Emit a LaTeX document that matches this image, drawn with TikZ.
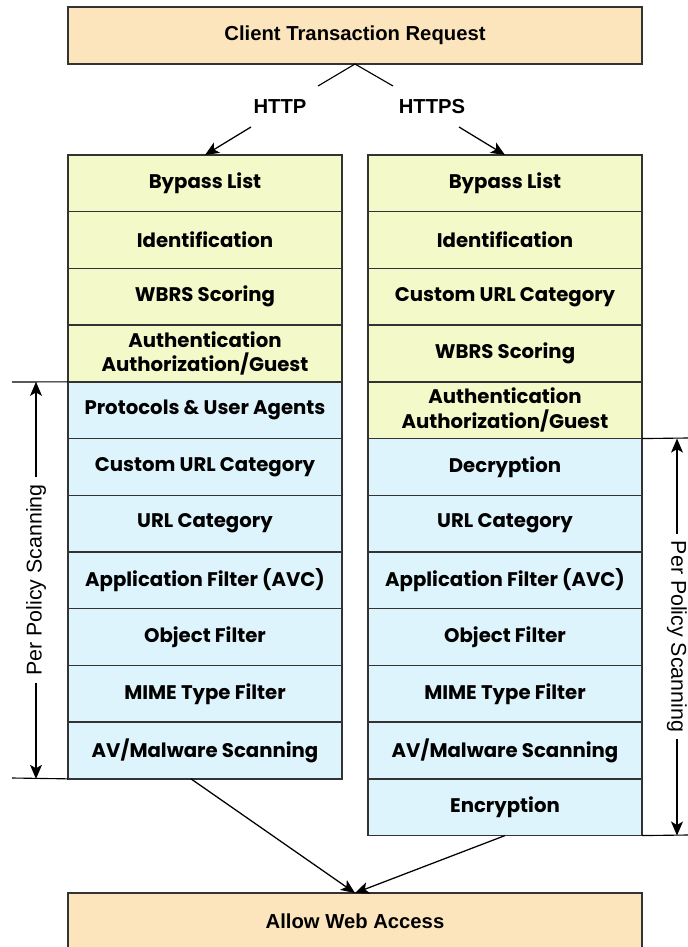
\documentclass[tikz,border=0pt]{standalone}
\usepackage{fontspec}
\setmainfont{Poppins}
\newfontfamily\arialfont{Liberation Sans}
\usetikzlibrary{arrows, arrows.meta, positioning}
\definecolor{stagefill}{HTML}{F3F9C8}
\definecolor{scanfill}{HTML}{DDF4FC}
\definecolor{endfill}{HTML}{FCE5BD}
\definecolor{edge}{HTML}{333333}

\begin{document}
\begin{tikzpicture}[x=0.025cm, y=-0.025cm]
		\tikzstyle{Stage} = [rectangle, minimum width=6.85cm, minimum height=1.4175cm, text centered, align=center, draw=edge, fill=stagefill, line width=1pt, outer sep=0pt, inner sep=0pt, font=\fontsize{14}{17.5}\selectfont\bfseries]
		\tikzstyle{Scan} = [Stage, fill=scanfill]
		\tikzstyle{Endpoint} = [rectangle, minimum width=14.35cm, minimum height=1.425cm, text centered, draw=edge, fill=endfill, line width=1pt, outer sep=0pt, font=\arialfont\fontsize{14.4}{17}\selectfont\bfseries]
		\tikzstyle{Proto} = [font=\arialfont\fontsize{14.4}{17}\selectfont\bfseries]
		\tikzstyle{Span} = [font=\arialfont\fontsize{15.2}{18}\selectfont, inner xsep=5pt]
		\tikzstyle{arrow} = [line width=0.9pt, -{Stealth[length=10pt, width=8.5pt, inset=2.5pt]}]
		\tikzstyle{Tick} = [line width=0.8pt]
		
		\useasboundingbox (0,0) rectangle (688,947);
		
		% request and protocols
		\node (req) [Endpoint] at (355,35.5) {Client Transaction Request};
		\node (http) [Proto] at (280,107) {HTTP};
		\node (https) [Proto] at (432,107) {HTTPS};
		\coordinate (httpHead) at (318,86);
		\coordinate (httpsHead) at (393,86);
		\coordinate (httpFoot) at (251,127);
		\coordinate (httpsFoot) at (459,127);
		
		% HTTP column
		\node (h1) [Stage] at (205,183.35) {Bypass List};
		\node (h2) [Stage, below = 0mm of h1] {Identification};
		\node (h3) [Stage, below = 0mm of h2] {WBRS Scoring};
		\node (h4) [Stage, below = 0mm of h3] {Authentication\\Authorization/Guest};
		\node (h5) [Scan, below = 0mm of h4] {Protocols \& User Agents};
		\node (h6) [Scan, below = 0mm of h5] {Custom URL Category};
		\node (h7) [Scan, below = 0mm of h6] {URL Category};
		\node (h8) [Scan, below = 0mm of h7] {Application Filter (AVC)};
		\node (h9) [Scan, below = 0mm of h8] {Object Filter};
		\node (h10) [Scan, below = 0mm of h9] {MIME Type Filter};
		\node (h11) [Scan, below = 0mm of h10] {AV/Malware Scanning};
		
		% HTTPS column
		\node (s1) [Stage] at (505,183.35) {Bypass List};
		\node (s2) [Stage, below = 0mm of s1] {Identification};
		\node (s3) [Stage, below = 0mm of s2] {Custom URL Category};
		\node (s4) [Stage, below = 0mm of s3] {WBRS Scoring};
		\node (s5) [Stage, below = 0mm of s4] {Authentication\\Authorization/Guest};
		\node (s6) [Scan, below = 0mm of s5] {Decryption};
		\node (s7) [Scan, below = 0mm of s6] {URL Category};
		\node (s8) [Scan, below = 0mm of s7] {Application Filter (AVC)};
		\node (s9) [Scan, below = 0mm of s8] {Object Filter};
		\node (s10) [Scan, below = 0mm of s9] {MIME Type Filter};
		\node (s11) [Scan, below = 0mm of s10] {AV/Malware Scanning};
		\node (s12) [Scan, below = 0mm of s11] {Encryption};
		
		\node (allow) [Endpoint, anchor=north] at (355,893) {Allow Web Access};
		
		\draw [Tick] (req.south) -- (httpHead);
		\draw [Tick] (req.south) -- (httpsHead);
		\draw [arrow] (httpFoot) -- (h1.north);
		\draw [arrow] (httpsFoot) -- (s1.north);
		\draw [arrow] ([xshift=-0.35cm]h11.south) -- (allow.north);
		\draw [arrow] (s12.south) -- (allow.north);
		
		% per policy scanning spans
		\coordinate (hTopTick) at (12,382);
		\coordinate (hBotTick) at (12,778);
		\coordinate (sTopTick) at (688,438);
		\coordinate (sBotTick) at (688,835);
		\draw [Tick] (hTopTick) -- (h5.north west);
		\draw [Tick] (hBotTick) -- (h11.south west);
		\draw [Tick] (s6.north east) -- (sTopTick);
		\draw [Tick] (s12.south east) -- (sBotTick);
		\node (hSpan) [Span, rotate=90] at (36,580) {Per Policy Scanning};
		\node (sSpan) [Span, rotate=-90] at (677,636.5) {Per Policy Scanning};
		\draw [arrow, Tick] (hSpan.east) -- (hSpan.east |- h5.north west);
		\draw [arrow, Tick] (hSpan.west) -- (hSpan.west |- h11.south west);
		\draw [arrow, Tick] (sSpan.west) -- (sSpan.west |- s6.north east);
		\draw [arrow, Tick] (sSpan.east) -- (sSpan.east |- s12.south east);
\end{tikzpicture}
\end{document}
